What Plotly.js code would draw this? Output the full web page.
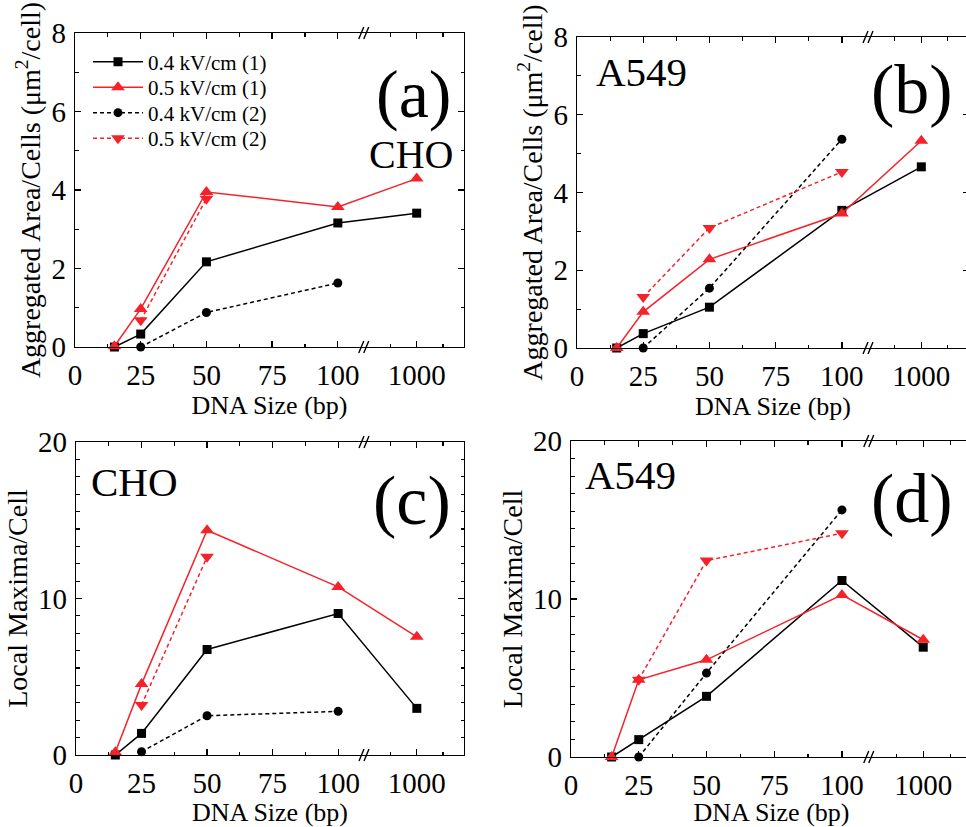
<!DOCTYPE html>
<html>
<head>
<meta charset="utf-8">
<script src="https://cdn.plot.ly/plotly-3.0.1.min.js"></script>
<style>
  html, body { margin: 0; padding: 0; overflow: hidden; background: #fff; }
  #fig { width: 980px; height: 827px; }
</style>
</head>
<body>
<div id="fig"></div>
<script>
// DNA fragment sizes (bp)
const sizesRun1 = [15, 25, 50, 100, 1000];
const sizesRun2 = [25, 50, 100];

// Aggregated area per cell (um^2/cell), CHO
const areaCHO_04_1 = [0, 0.33, 2.17, 3.16, 3.41];
const areaCHO_05_1 = [0.02, 0.97, 3.95, 3.57, 4.29];
const areaCHO_04_2 = [0, 0.88, 1.63];
const areaCHO_05_2 = [0.68, 3.78, null];

// Aggregated area per cell (um^2/cell), A549
const areaA549_04_1 = [0, 0.37, 1.05, 3.54, 4.66];
const areaA549_05_1 = [0, 0.93, 2.28, 3.46, 5.33];
const areaA549_04_2 = [0, 1.54, 5.37];
const areaA549_05_2 = [1.31, 3.09, 4.53];

// Local maxima per cell, CHO
const maxCHO_04_1 = [0, 1.38, 6.74, 9.04, 2.98];
const maxCHO_05_1 = [0.17, 4.53, 14.36, 10.74, 7.55];
const maxCHO_04_2 = [0.21, 2.51, 2.79];
const maxCHO_05_2 = [3.19, 12.66, null];

// Local maxima per cell, A549
const maxA549_04_1 = [0, 1.1, 3.84, 11.17, 6.95];
const maxA549_05_1 = [0, 4.89, 6.15, 10.26, 7.42];
const maxA549_04_2 = [0, 5.31, 15.64];
const maxA549_05_2 = [4.89, 12.43, 14.16];

const seriesNames = ['0.4 kV/cm (1)', '0.5 kV/cm (1)', '0.4 kV/cm (2)', '0.5 kV/cm (2)'];
const xTickValues = [0, 25, 50, 75, 100, 1000];
const xTickLabels = ['0', '25', '50', '75', '100', '1000'];
const xMinorValues = [12.5, 37.5, 62.5, 87.5, 750, 1250];

// Broken x axis: 0-111 linear, then 525-1450 compressed (25 bp per unit)
const BREAK = 111;
function xpos(v) { return v <= BREAK ? v : BREAK + (v - 525) / 25; }
const XMAX = xpos(1450);

const W = 980, H = 827;
const px = p => p / W;
const py = p => 1 - p / H;

const FONT = '"Liberation Serif", "Times New Roman", "DejaVu Serif", serif';
const BLACK = '#000000';
const RED = '#f5222a';

const panels = [
  { x: [75, 464], y: [33, 347], ymax: 8, major: [0, 2, 4, 6, 8], minorStep: 1,
    title: 'Aggregated Area/Cells (μm<sup>2</sup>/cell)',
    data: [areaCHO_04_1, areaCHO_05_1, areaCHO_04_2, areaCHO_05_2] },
  { x: [577, 969], y: [37, 348], ymax: 8, major: [0, 2, 4, 6, 8], minorStep: 1,
    title: 'Aggregated Area/Cells (μm<sup>2</sup>/cell)',
    data: [areaA549_04_1, areaA549_05_1, areaA549_04_2, areaA549_05_2] },
  { x: [76, 464], y: [442, 755], ymax: 20, major: [0, 10, 20], minorStep: 10 / 9,
    title: 'Local Maxima/Cell',
    data: [maxCHO_04_1, maxCHO_05_1, maxCHO_04_2, maxCHO_05_2] },
  { x: [571, 972], y: [441, 757], ymax: 20, major: [0, 10, 20], minorStep: 10 / 9,
    title: 'Local Maxima/Cell',
    data: [maxA549_04_1, maxA549_05_1, maxA549_04_2, maxA549_05_2] }
];

const styles = [
  { color: BLACK, dash: 'solid', symbol: 'square', size: 9 },
  { color: RED, dash: 'solid', symbol: 'triangle-up', size: 12 },
  { color: BLACK, dash: '4px,3px', symbol: 'circle', size: 9 },
  { color: RED, dash: '4px,3px', symbol: 'triangle-down', size: 12 }
];

const traces = [];
const layout = {
  width: W, height: H,
  margin: { l: 0, r: 0, t: 0, b: 0 },
  paper_bgcolor: '#fff', plot_bgcolor: 'rgba(0,0,0,0)',
  font: { family: FONT, color: BLACK },
  showlegend: true,
  shapes: [], annotations: []
};

// one legend box per series so the rows sit tightly stacked
const legendKeys = ['legend', 'legend2', 'legend3', 'legend4'];
legendKeys.forEach((k, s) => {
  layout[k] = {
    x: px(88), y: py(62 + s * 25.5), xanchor: 'left', yanchor: 'middle',
    bgcolor: 'rgba(0,0,0,0)', borderwidth: 0,
    font: { family: FONT, size: 21, color: BLACK },
    itemwidth: 50
  };
});

panels.forEach((p, i) => {
  const n = i + 1;
  const xa = 'xaxis' + (n === 1 ? '' : n);
  const ya = 'yaxis' + (n === 1 ? '' : n);
  const xr = 'x' + (n === 1 ? '' : n);
  const yr = 'y' + (n === 1 ? '' : n);

  const yMinor = [];
  for (let k = 1; k * p.minorStep < p.ymax - 1e-6; k++) {
    const v = k * p.minorStep;
    if (!p.major.some(m => Math.abs(m - v) < 1e-6)) yMinor.push(v);
  }

  layout[xa] = {
    domain: [px(p.x[0]), px(p.x[1])], anchor: yr,
    range: [0, XMAX], showgrid: false, zeroline: false,
    showline: true, linecolor: BLACK, linewidth: 1.3, mirror: 'allticks',
    ticks: 'inside', ticklen: 6, tickwidth: 1.3, tickcolor: BLACK,
    tickmode: 'array', tickvals: xTickValues.map(xpos), ticktext: xTickLabels,
    tickfont: { family: FONT, size: 29, color: BLACK },
    ticklabelstandoff: 2,
    minor: { tickmode: 'array', tickvals: xMinorValues.map(xpos), ticks: 'inside',
             ticklen: 3.5, tickwidth: 1.2, tickcolor: BLACK, showgrid: false },
    title: { text: 'DNA Size (bp)', font: { family: FONT, size: 26, color: BLACK }, standoff: 0 }
  };
  layout[ya] = {
    domain: [py(p.y[1]), py(p.y[0])], anchor: xr,
    range: [0, p.ymax], showgrid: false, zeroline: false,
    showline: true, linecolor: BLACK, linewidth: 1.3, mirror: 'allticks',
    ticks: 'inside', ticklen: 6, tickwidth: 1.3, tickcolor: BLACK,
    tickmode: 'array', tickvals: p.major, ticktext: p.major.map(String),
    tickfont: { family: FONT, size: 29, color: BLACK },
    ticklabelstandoff: 2,
    minor: { tickmode: 'array', tickvals: yMinor, ticks: 'inside',
             ticklen: 3.5, tickwidth: 1.2, tickcolor: BLACK, showgrid: false },
    title: { text: p.title, font: { family: FONT, size: 28, color: BLACK }, standoff: 2 }
  };

  p.data.forEach((vals, s) => {
    const st = styles[s];
    const xs = (s < 2 ? sizesRun1 : sizesRun2).map(xpos);
    traces.push({
      type: 'scatter', mode: 'lines+markers',
      x: xs, y: vals, xaxis: xr, yaxis: yr,
      name: seriesNames[s], showlegend: i === 0, legend: legendKeys[s],
      cliponaxis: false, connectgaps: false,
      line: { color: st.color, width: 1.5, dash: st.dash },
      marker: { color: st.color, symbol: st.symbol, size: st.size, line: { width: 0 } }
    });
  });

  // "//" break marks on the bottom and top axis lines
  [0, 1].forEach(edge => {
    [-6, -1].forEach(off => {
      layout.shapes.push({
        type: 'line', xref: xr, yref: yr + ' domain',
        xsizemode: 'pixel', xanchor: xpos(BREAK), x0: off - 2, x1: off + 3,
        ysizemode: 'pixel', yanchor: edge, y0: -6, y1: 6,
        line: { color: BLACK, width: 1.4 }
      });
    });
  });
});

const labels = [
  { t: '(a)', x: 413, y: 94, s: 68 },
  { t: 'CHO', x: 411, y: 154, s: 40 },
  { t: 'A549', x: 641, y: 72, s: 41 },
  { t: '(b)', x: 912, y: 90, s: 70 },
  { t: 'CHO', x: 134, y: 482, s: 41 },
  { t: '(c)', x: 412, y: 500, s: 70 },
  { t: 'A549', x: 630, y: 475, s: 41 },
  { t: '(d)', x: 912, y: 498, s: 70 }
];
labels.forEach(l => {
  layout.annotations.push({
    text: l.t, xref: 'paper', yref: 'paper', x: px(l.x), y: py(l.y),
    xanchor: 'center', yanchor: 'middle', showarrow: false,
    font: { family: FONT, size: l.s, color: BLACK }
  });
});

Plotly.newPlot('fig', traces, layout, { staticPlot: true, displayModeBar: false });
</script>
</body>
</html>
